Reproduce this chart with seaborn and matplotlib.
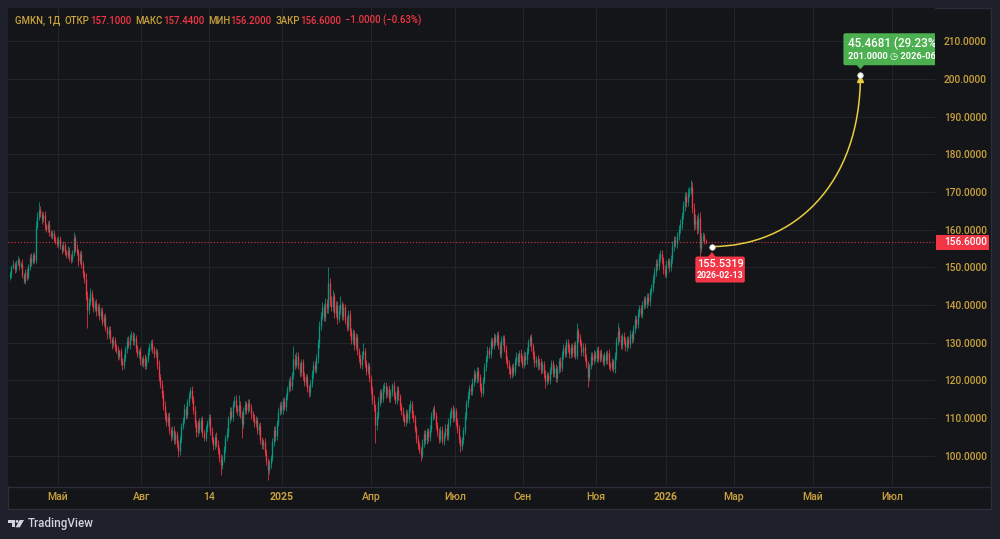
import numpy as np
import matplotlib
matplotlib.use("Agg")
import matplotlib.pyplot as plt
from matplotlib.path import Path
from matplotlib.patches import PathPatch, Rectangle, FancyBboxPatch, Polygon, Circle
import seaborn as sns

# ---- data: GMKN daily candles (open = previous close) ----
first_open = 147.4
closes = [
    148.2, 150.1, 150.8, 149.6, 151.2, 151.9, 150.4, 150.9, 148.1, 146.5,
    148.8, 147.5, 150.3, 152.6, 151.4, 153.2, 152.0, 160.8, 163.5, 165.2,
    164.2, 162.8, 163.9, 161.0, 160.2, 161.5, 159.3, 158.4, 159.0, 157.6,
    157.0, 156.1, 157.5, 155.8, 154.6, 155.9, 154.1, 153.3, 154.7, 152.8,
    152.1, 153.8, 157.9, 155.0, 154.2, 151.6, 153.5, 150.8, 148.4, 146.9,
    142.5, 138.7, 140.9, 143.2, 141.0, 139.2, 140.5, 138.3, 139.6, 137.2,
    138.4, 135.6, 136.9, 133.8, 132.2, 133.5, 131.0, 129.6, 130.8, 128.9,
    128.1, 126.5, 127.8, 125.2, 124.0, 125.9, 128.3, 130.5, 129.4, 131.6,
    132.0, 130.4, 131.3, 128.5, 126.9, 127.8, 125.3, 124.6, 126.0, 123.9,
    125.8, 127.6, 129.1, 130.0, 128.2, 126.9, 127.5, 124.1, 121.0, 118.9,
    116.5, 113.2, 110.8, 108.9, 110.3, 106.8, 105.2, 106.9, 104.1, 105.7,
    103.0, 101.2, 104.5, 107.8, 109.6, 112.4, 110.9, 114.2, 116.0, 117.4,
    115.0, 112.1, 108.7, 106.2, 108.9, 107.1, 109.5, 106.0, 104.8, 107.3,
    108.8, 110.1, 106.5, 104.3, 102.8, 105.0, 103.2, 101.6, 99.4, 97.5,
    99.1, 101.8, 104.6, 106.2, 109.7, 112.0, 110.4, 113.8, 114.9, 112.6,
    111.8, 113.5, 111.0, 108.3, 111.9, 113.7, 112.2, 114.1, 112.8, 111.0,
    110.2, 108.6, 109.5, 106.7, 107.9, 104.2, 102.8, 103.6, 100.9, 98.6,
    96.2, 97.8, 99.4, 103.6, 106.9, 105.2, 108.8, 111.6, 113.4, 112.1,
    114.5, 113.0, 115.8, 117.6, 119.9, 118.4, 121.3, 125.8, 124.2, 126.4,
    123.9, 122.1, 124.8, 121.2, 119.5, 120.8, 117.9, 116.8, 119.3, 121.7,
    124.2, 123.0, 125.9, 129.8, 134.5, 137.2, 139.4, 136.8, 140.6, 139.1,
    145.8, 141.2, 139.5, 142.3, 137.8, 139.9, 136.4, 138.7, 140.2, 137.0,
    139.4, 136.1, 134.3, 137.5, 133.0, 130.7, 132.6, 129.3, 131.4, 127.8,
    125.9, 124.1, 126.8, 127.9, 124.5, 122.6, 123.8, 120.7, 117.6, 114.9,
    112.8, 108.1, 110.6, 114.3, 116.8, 115.1, 117.9, 118.6, 116.4, 117.7,
    115.2, 116.9, 118.7, 116.0, 114.6, 117.5, 115.8, 113.2, 111.9, 110.4,
    108.9, 111.3, 109.7, 112.6, 113.8, 111.2, 109.9, 107.2, 104.5, 102.8,
    101.6, 100.2, 103.4, 105.8, 104.1, 106.5, 104.9, 107.2, 110.6, 112.4,
    110.8, 108.1, 106.3, 104.5, 106.9, 103.8, 105.6, 107.4, 105.2, 108.9,
    111.0, 112.5, 110.1, 111.8, 109.0, 107.2, 104.4, 102.6, 104.1, 106.8,
    110.5, 113.9, 116.2, 118.0, 117.1, 119.6, 121.8, 120.4, 122.6, 120.9,
    118.3, 116.7, 120.2, 123.5, 125.9, 128.1, 127.0, 130.4, 129.2, 131.5,
    130.3, 132.1, 129.4, 127.0, 130.6, 131.2, 128.3, 125.6, 124.4, 122.9,
    121.6, 123.5, 122.3, 125.1, 126.4, 124.8, 127.3, 125.9, 124.2, 126.6,
    125.3, 127.9, 130.1, 131.4, 129.0, 126.8, 124.5, 125.7, 123.9, 125.0,
    122.8, 124.3, 121.6, 119.8, 121.3, 120.2, 122.7, 124.5, 121.9, 123.4,
    120.6, 122.9, 125.1, 123.3, 126.8, 128.7, 127.2, 130.1, 128.5, 126.9,
    128.8, 127.3, 129.5, 126.6, 133.1, 131.2, 130.0, 127.6, 128.9, 126.0,
    124.2, 120.8, 123.9, 126.5, 125.3, 127.1, 126.0, 128.0, 125.8, 127.3,
    126.2, 124.9, 126.8, 125.3, 127.2, 124.0, 123.6, 125.1, 123.0, 126.5,
    130.4, 133.2, 131.0, 129.3, 131.8, 130.5, 128.8, 130.9, 129.6, 132.2,
    131.0, 133.7, 136.2, 135.0, 137.8, 139.1, 137.6, 139.9, 141.5, 140.3,
    142.2, 141.0, 143.6, 144.5, 146.9, 148.8, 151.2, 150.3, 152.7, 153.5,
    151.9, 149.5, 148.2, 150.8, 151.6, 150.1, 152.3, 155.7, 157.2, 156.4,
    158.3, 160.2, 161.5, 163.8, 166.2, 168.9, 167.3, 169.8, 170.4, 171.2,
    165.8, 161.4, 162.7, 160.3, 163.1, 155.2, 157.9, 158.4, 157.1, 156.6,
]
# upper / lower shadow beyond the candle body
wick_hi = [
    0.9, 0.6, 1.1, 0.5, 0.8, 1.0, 0.7, 0.6, 1.2, 0.5,
    0.7, 1.0, 0.6, 0.9, 1.3, 0.5, 0.8, 1.4, 1.1, 2.2,
    1.2, 0.8, 0.9, 1.1, 0.6, 0.7, 1.0, 0.5, 0.9, 0.8,
    0.6, 1.0, 0.7, 0.9, 0.5, 1.2, 0.8, 0.6, 1.0, 0.7,
    0.8, 0.9, 1.6, 0.7, 1.1, 0.6, 0.9, 1.2, 0.8, 0.7,
    1.5, 1.3, 1.0, 1.4, 0.8, 1.1, 0.9, 1.2, 0.7, 1.0,
    0.9, 1.2, 0.8, 1.1, 0.7, 0.9, 1.0, 0.6, 1.1, 0.8,
    0.7, 1.0, 0.6, 0.9, 0.8, 1.1, 0.7, 0.9, 1.2, 0.6,
    1.0, 0.8, 1.2, 0.7, 0.9, 0.6, 1.0, 0.8, 0.7, 1.1,
    0.8, 0.9, 0.7, 0.6, 1.0, 0.8, 1.1, 0.9, 1.2, 0.8,
    1.1, 0.9, 1.3, 0.8, 1.0, 1.2, 0.7, 0.9, 1.1, 0.8,
    0.9, 1.1, 0.8, 1.0, 0.7, 1.2, 0.9, 0.8, 1.0, 0.8,
    1.0, 0.9, 1.2, 0.8, 0.7, 1.1, 0.9, 1.0, 0.8, 0.9,
    0.8, 1.1, 0.9, 1.0, 0.7, 0.8, 1.2, 0.9, 0.8, 1.0,
    1.0, 0.8, 0.9, 1.2, 0.8, 1.0, 0.9, 0.7, 0.9, 1.1,
    0.9, 2.5, 1.0, 0.8, 1.1, 0.9, 0.7, 1.0, 0.9, 0.8,
    1.0, 0.8, 1.1, 0.9, 0.7, 1.0, 0.8, 0.9, 1.1, 0.8,
    0.9, 1.0, 0.8, 1.2, 0.9, 1.1, 0.8, 1.0, 0.9, 1.2,
    0.8, 1.1, 0.9, 1.0, 0.8, 1.2, 0.9, 3.2, 1.1, 1.0,
    1.2, 0.9, 1.0, 0.8, 1.1, 0.9, 1.0, 0.8, 0.9, 1.1,
    0.9, 1.0, 1.2, 1.1, 1.3, 0.9, 1.4, 1.0, 1.2, 1.1,
    4.3, 1.5, 1.2, 1.8, 1.0, 1.3, 1.1, 1.4, 2.2, 1.0,
    1.2, 1.0, 0.9, 1.3, 1.1, 0.8, 1.0, 0.9, 1.2, 1.0,
    0.9, 1.1, 1.0, 2.1, 0.8, 1.0, 1.2, 0.9, 0.8, 1.0,
    1.1, 1.0, 0.9, 1.2, 1.0, 0.8, 1.1, 0.9, 1.0, 0.8,
    1.0, 0.9, 0.6, 1.1, 0.8, 0.9, 1.0, 0.7, 0.9, 1.0,
    0.8, 1.0, 0.9, 1.1, 0.9, 0.8, 1.0, 0.9, 0.8, 1.0,
    0.9, 0.8, 1.0, 0.9, 1.1, 0.8, 0.9, 1.0, 0.9, 0.5,
    1.0, 0.9, 0.8, 1.0, 0.9, 1.1, 0.8, 1.0, 0.9, 1.1,
    1.0, 0.4, 0.9, 1.1, 0.8, 1.0, 0.9, 0.8, 1.0, 0.9,
    1.0, 0.9, 1.1, 0.8, 1.0, 0.9, 1.2, 0.8, 0.9, 1.0,
    0.9, 1.0, 0.8, 1.1, 0.9, 1.0, 0.8, 1.2, 0.9, 1.0,
    0.8, 0.7, 1.0, 0.9, 1.1, 0.8, 0.9, 1.0, 0.8, 0.9,
    1.0, 0.9, 1.1, 0.8, 1.0, 0.9, 0.8, 1.0, 0.9, 1.1,
    0.9, 1.0, 0.8, 0.6, 1.0, 0.9, 1.1, 0.8, 1.0, 0.9,
    1.0, 0.8, 0.9, 1.1, 0.9, 1.0, 0.8, 0.9, 1.0, 0.8,
    0.9, 1.0, 0.8, 1.1, 0.9, 1.0, 0.8, 0.9, 1.0, 1.1,
    0.9, 1.0, 0.8, 0.9, 2.1, 0.9, 1.0, 0.8, 0.9, 1.0,
    0.9, 1.0, 0.8, 1.1, 0.9, 1.0, 0.8, 0.9, 1.0, 0.8,
    1.0, 0.9, 0.8, 1.1, 0.9, 1.0, 0.8, 0.9, 0.7, 1.0,
    1.1, 2.0, 0.9, 1.0, 0.8, 1.1, 0.9, 1.0, 0.8, 1.1,
    0.9, 1.0, 1.2, 0.9, 1.1, 1.0, 0.8, 1.2, 1.0, 0.9,
    1.0, 1.1, 0.9, 1.2, 1.0, 1.3, 1.1, 0.9, 1.2, 1.0,
    1.1, 0.9, 1.0, 1.2, 0.8, 1.0, 1.1, 1.3, 1.2, 1.0,
    1.2, 1.1, 1.3, 1.0, 1.4, 1.2, 1.1, 1.3, 1.0, 2.0,
    1.5, 1.2, 1.4, 1.1, 1.3, 1.6, 1.2, 1.0, 0.8, 0.34,
]
wick_lo = [
    0.7, 0.9, 0.6, 1.0, 0.8, 0.5, 1.1, 0.7, 0.9, 0.7,
    1.0, 0.8, 0.7, 0.9, 1.1, 0.6, 0.8, 0.9, 0.7, 1.0,
    0.9, 1.2, 0.7, 1.0, 0.8, 0.9, 1.1, 0.7, 0.8, 1.0,
    0.8, 0.7, 1.0, 0.9, 1.1, 0.6, 0.9, 0.8, 0.7, 1.0,
    0.9, 0.8, 0.7, 1.0, 0.9, 1.2, 0.8, 1.0, 0.9, 1.1,
    1.2, 4.7, 1.1, 0.9, 1.3, 1.0, 0.8, 1.2, 0.9, 1.1,
    1.0, 0.9, 1.2, 0.8, 1.1, 0.9, 1.0, 1.2, 0.8, 1.0,
    0.9, 1.1, 0.8, 1.0, 1.2, 0.9, 0.8, 1.0, 0.9, 1.1,
    0.8, 1.0, 0.9, 1.1, 0.8, 1.0, 1.2, 0.9, 1.0, 0.8,
    1.0, 0.8, 0.9, 1.1, 0.9, 1.0, 0.8, 1.2, 1.1, 1.0,
    1.2, 1.0, 1.3, 0.9, 1.1, 1.0, 1.2, 0.8, 1.0, 1.1,
    1.0, 1.5, 0.9, 1.1, 0.8, 1.0, 1.2, 0.9, 1.0, 0.8,
    0.9, 1.1, 1.0, 1.2, 0.9, 1.0, 0.8, 1.1, 1.0, 0.9,
    1.0, 0.8, 1.1, 0.9, 1.2, 1.0, 0.9, 1.1, 1.0, 2.6,
    1.1, 0.9, 1.0, 0.8, 1.1, 0.9, 1.0, 1.2, 0.9, 1.0,
    1.0, 1.2, 0.9, 3.5, 1.0, 0.8, 1.1, 0.9, 1.0, 1.2,
    0.9, 1.1, 1.0, 0.9, 1.2, 1.0, 1.1, 0.9, 1.0, 1.1,
    2.7, 1.0, 1.1, 0.9, 1.0, 1.2, 0.9, 1.0, 0.8, 1.1,
    1.0, 0.9, 1.1, 1.0, 0.8, 1.1, 0.9, 1.0, 1.2, 0.9,
    1.0, 1.1, 0.9, 1.2, 1.0, 0.9, 1.1, 1.3, 0.9, 1.0,
    1.1, 0.9, 1.0, 1.2, 1.1, 1.0, 1.3, 1.1, 1.0, 1.2,
    1.2, 1.4, 1.1, 1.0, 1.3, 1.1, 1.5, 1.0, 1.2, 1.1,
    1.0, 1.2, 1.1, 0.9, 1.3, 1.0, 1.1, 1.2, 0.9, 1.1,
    1.1, 0.9, 1.0, 1.2, 1.0, 1.1, 0.9, 1.2, 1.3, 1.1,
    1.0, 4.7, 1.2, 0.9, 1.1, 1.0, 0.8, 1.1, 1.0, 0.9,
    1.0, 0.9, 1.1, 1.0, 0.8, 1.0, 0.9, 1.1, 1.0, 1.2,
    0.9, 1.0, 1.1, 0.9, 1.0, 1.2, 0.9, 1.0, 1.1, 0.9,
    1.0, 1.5, 0.9, 1.1, 1.0, 0.9, 1.2, 1.0, 0.9, 1.1,
    1.0, 0.9, 1.1, 1.0, 0.9, 0.6, 1.0, 0.9, 1.1, 1.0,
    0.9, 1.0, 1.1, 0.9, 1.0, 1.2, 0.9, 1.6, 1.0, 0.9,
    1.1, 0.9, 1.0, 1.2, 0.9, 1.0, 1.1, 0.9, 1.0, 1.2,
    1.0, 1.2, 0.9, 1.0, 1.1, 0.9, 1.0, 1.1, 0.9, 1.0,
    0.9, 1.0, 1.1, 0.9, 1.0, 1.2, 0.9, 1.1, 1.0, 1.1,
    1.0, 0.9, 1.1, 1.0, 0.9, 1.0, 1.1, 0.9, 1.0, 0.9,
    1.1, 0.9, 1.0, 0.9, 1.1, 1.0, 0.9, 1.0, 1.1, 0.9,
    1.0, 0.9, 1.1, 1.8, 1.0, 0.9, 1.1, 1.0, 0.9, 1.1,
    1.0, 1.1, 0.9, 1.0, 0.9, 1.1, 1.0, 0.9, 1.1, 1.0,
    0.9, 1.0, 1.1, 0.9, 1.0, 1.1, 0.9, 1.0, 1.1, 0.9,
    1.0, 2.6, 1.0, 0.9, 1.1, 1.0, 0.9, 1.1, 1.0, 0.9,
    1.0, 0.9, 1.1, 1.0, 0.9, 1.1, 1.0, 0.9, 0.8, 1.0,
    1.1, 1.0, 0.9, 1.1, 1.0, 0.9, 1.1, 1.0, 0.9, 1.1,
    1.0, 0.9, 1.1, 1.0, 1.2, 1.0, 0.9, 1.1, 1.0, 1.2,
    1.1, 1.0, 1.2, 0.9, 1.1, 1.0, 1.2, 1.1, 1.0, 1.2,
    1.1, 1.2, 0.8, 1.0, 1.1, 1.2, 1.0, 1.1, 1.3, 1.0,
    1.2, 1.0, 1.1, 1.3, 1.0, 1.2, 1.4, 1.1, 1.2, 1.0,
    1.3, 1.4, 1.2, 1.5, 1.1, 3.1, 1.2, 1.0, 0.9, 0.4,
]

ticker = "GMKN, 1Д"
last_ohlc = {"ОТКР": "157.1000", "МАКС": "157.4400", "МИН": "156.2000", "ЗАКР": "156.6000"}
last_change = "−1.0000 (−0.63%)"
last_price = 156.6

# time scale labels (bar index where each label sits)
tick_pos = [31.7, 86.7, 131.3, 179.4, 238.1, 293.5, 338.1, 386.5, 432.7, 477.6, 529.7, 581.8]
tick_labels = ["Май", "Авг", "14", "2025", "Апр", "Июл", "Сен", "Ноя", "2026", "Мар", "Май", "Июл"]
price_ticks = list(range(100, 211, 10))

# drawing: curve from a start point to a target
arc_start_bar, arc_start_price, arc_start_date = 463, 155.5319, "2026-02-13"
arc_end_bar, arc_end_price, arc_end_date = 561, 201.0, "2026-06-08"

# ---- style ----
BG = "#1e212c"
PANE = "#141519"
BORDER = "#2a2e39"
GRID = "#212429"
GOLD = "#c9a23c"
RED = "#f23645"
UP = "#089981"
DOWN = "#f23645"
YELLOW = "#e8cc3f"
LABEL_GREEN = "#4caf50"
LOGO = "#d1d4dc"

sns.set_theme(style="dark")
plt.rcParams["font.family"] = ["Roboto", "DejaVu Sans"]

W, H = 1000, 539
fig = plt.figure(figsize=(W / 100, H / 100), dpi=100, facecolor=BG)

bg = fig.add_axes([0, 0, 1, 1], zorder=0)
bg.set_xlim(0, W)
bg.set_ylim(H, 0)
bg.axis("off")
bg.add_patch(Rectangle((8, 8), 983, 501, fc=PANE, ec=BORDER, lw=1))

ax = fig.add_axes([8 / W, (H - 486) / H, 927 / W, 478 / H], zorder=1)
ax.set_facecolor(PANE)
for s in ax.spines.values():
    s.set_visible(False)

# ---- candles ----
c = np.array(closes)
o = np.r_[first_open, c[:-1]]
hi = np.maximum(o, c) + np.array(wick_hi)
lo = np.minimum(o, c) - np.array(wick_lo)
x = np.arange(len(c))
colors = np.where(c >= o, UP, DOWN)
body_lo = np.minimum(o, c)
body_hi = np.maximum(np.maximum(o, c), body_lo + 0.3)
ax.vlines(x, lo, hi, colors=colors, lw=0.55, zorder=3)
ax.vlines(x, body_lo, body_hi, colors=colors, lw=0.95, zorder=3)

ax.axhline(last_price, color=RED, lw=0.8, ls=(0, (1, 1.8)), alpha=0.9, zorder=2)

ax.set_xlim(-1.3, 610.2)
ax.set_ylim(91.96, 218.85)
ax.set_xticks(tick_pos)
ax.set_xticklabels(tick_labels)
ax.yaxis.tick_right()
ax.set_yticks(price_ticks)
ax.set_yticklabels([f"{v:.4f}" for v in price_ticks])
ax.tick_params(axis="x", colors=GOLD, length=0, pad=4.5, labelsize=7.6)
ax.tick_params(axis="y", colors=GOLD, length=0, pad=6.5, labelsize=7.3)
for lbl in ax.get_xticklabels() + ax.get_yticklabels():
    lbl.set_fontweight("medium")
    if lbl.get_text() in ("2025", "2026"):
        lbl.set_fontweight("bold")
ax.grid(True, color=GRID, lw=0.8)
ax.set_axisbelow(True)

# curve drawing (cubic bezier from start to target)
x0, y0, x3, y3 = arc_start_bar, arc_start_price, arc_end_bar, arc_end_price
verts = [(x0, y0), (x0 + 0.55 * (x3 - x0), y0), (x3, y0 + 0.36 * (y3 - y0)), (x3, y3)]
curve = Path(verts, [Path.MOVETO, Path.CURVE4, Path.CURVE4, Path.CURVE4])
ax.add_patch(PathPatch(curve, fc="none", ec=YELLOW, lw=1.1, zorder=4))

# ---- overlay in pixel coordinates ----
top = fig.add_axes([0, 0, 1, 1], zorder=5)
top.set_xlim(0, W)
top.set_ylim(H, 0)
top.axis("off")
top.plot([8, 991], [486.5, 486.5], color=BORDER, lw=1)


def to_px(xd, yd):
    dx, dy = ax.transData.transform((xd, yd))
    return dx, H - dy


# header line
renderer = fig.canvas.get_renderer()
pieces = [(ticker, GOLD, 4.5)]
for k, v in last_ohlc.items():
    pieces += [(k, GOLD, 0.3), (v, RED, 4.0)]
pieces.append((last_change, RED, 0))
cx = 15
for txt, col, gap in pieces:
    t = top.text(cx, 20.5, txt, color=col, fontsize=6.95, fontweight="medium",
                 va="center", ha="left")
    bb = t.get_window_extent(renderer)
    cx += bb.width + gap

# last price box on the price scale
_, py = to_px(0, last_price)
top.add_patch(Rectangle((936, py - 7.2), 52.5, 14.4, fc=RED, ec="none"))
top.text(944, py, f"{last_price:.4f}", color="white", fontsize=7.3, fontweight="medium",
         va="center", ha="left")

# start label
sx, sy = to_px(arc_start_bar, arc_start_price)
top.add_patch(FancyBboxPatch((sx - 16.5, sy + 10), 49.5, 26,
                             boxstyle="round,pad=0,rounding_size=2", fc=RED, ec="none"))
top.add_patch(Polygon([(sx - 4, sy + 10.5), (sx + 4, sy + 10.5), (sx, sy + 5.5)], fc=RED, ec="none"))
top.text(sx + 8.3, sy + 17.5, f"{arc_start_price:.4f}", color="white", fontsize=7.9,
         fontweight="medium", ha="center", va="center")
top.text(sx + 8.3, sy + 28.5, arc_start_date, color="white", fontsize=6.3,
         fontweight="bold", ha="center", va="center")

# target label (clipped by the plot area like the original)
ex, ey = to_px(arc_end_bar, arc_end_price)
change = arc_end_price - arc_start_price
pct = change / arc_start_price * 100
gbox = FancyBboxPatch((ex - 17, ey - 42), 93, 32,
                      boxstyle="round,pad=0,rounding_size=2", fc=LABEL_GREEN, ec="none")
top.add_patch(gbox)
gtri = Polygon([(ex - 4, ey - 10.5), (ex + 4, ey - 10.5), (ex, ey - 6)], fc=LABEL_GREEN, ec="none")
top.add_patch(gtri)
g1 = top.text(ex - 12, ey - 32, f"{change:.4f} ({pct:.2f}%)", color="white", fontsize=8.4,
              fontweight="medium", ha="left", va="center")
g2 = top.text(ex - 12, ey - 18.5, f"{arc_end_price:.4f} ◷ {arc_end_date}", color="white",
              fontsize=6.7, fontweight="bold", ha="left", va="center",
              family=["Roboto", "DejaVu Sans"])
for a in (gbox, gtri, g1, g2):
    a.set_clip_box(ax.bbox)
    a.set_clip_on(True)

# arrow head and end points
top.plot([ex], [ey + 3.5], marker="^", ms=4.6, color=YELLOW, mec=YELLOW, ls="none")
sns.scatterplot(x=[sx, ex], y=[sy, ey], ax=top, color="white", s=16,
                edgecolor="#cfcfcf", linewidth=0.5, zorder=6)
top.set_xlim(0, W)
top.set_ylim(H, 0)
top.axis("off")

# TradingView logo
top.add_patch(Polygon([(8, 520), (15.3, 520), (15.3, 527.3), (12, 527.3), (12, 522.7), (8, 522.7)],
                      fc=LOGO, ec="none"))
top.add_patch(Circle((17.0, 521.4), 1.4, fc=LOGO, ec="none"))
top.add_patch(Polygon([(19.6, 520), (24, 520), (19.8, 527.3), (15.6, 527.3)], fc=LOGO, ec="none"))
top.text(27.5, 523.6, "TradingView", color=LOGO, fontsize=8.4, fontweight="medium",
         ha="left", va="center")

fig.savefig("out.png", dpi=100, facecolor=BG)
